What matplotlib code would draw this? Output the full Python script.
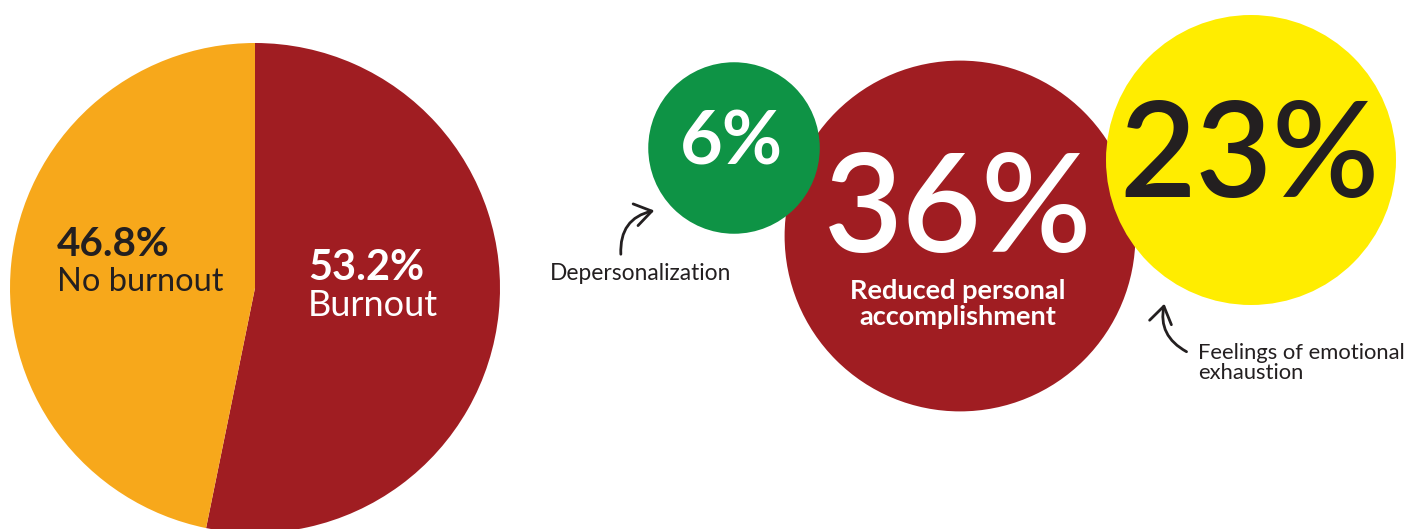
import matplotlib.pyplot as plt
from matplotlib.patches import Circle, FancyArrowPatch
import numpy as np

# Burnout split
pie_labels = ['Burnout', 'No burnout']
pie_values = [53.2, 46.8]
pie_colors = ['#A01D22', '#F7A81B']

# Burnout dimensions
dim_labels = ['Depersonalization', 'Reduced personal\naccomplishment',
              'Feelings of emotional\nexhaustion']
dim_values = [6, 36, 23]
dim_colors = ['#0E9345', '#A01D22', '#FFED00']

W, H = 1409, 529
dark = '#231F20'


def Y(py):
    # flip a top-down pixel row into the axes' y
    return H - py


def bubble_radius(v):
    return 23.9 + 25.25 * np.sqrt(v)


fig = plt.figure(figsize=(W / 100, H / 100), dpi=100)
ax = fig.add_axes([0, 0, 1, 1])

# pie
ax.pie(pie_values, colors=pie_colors, startangle=90, counterclock=False,
       center=(255, Y(288)), radius=245, frame=True,
       wedgeprops=dict(linewidth=0))
ax.set_xlim(0, W)
ax.set_ylim(0, H)
ax.set_aspect('equal')
ax.axis('off')

ax.text(57, Y(245), f'{pie_values[1]:.1f}%', fontsize=29, fontweight='bold',
        color=dark, family='Lato', ha='left', va='center')
ax.text(57, Y(282), pie_labels[1], fontsize=23.5, color=dark, family='Lato',
        ha='left', va='center')
ax.text(308, Y(268), f'{pie_values[0]:.1f}%', fontsize=30, fontweight='bold',
        color='white', family='Lato', ha='left', va='center')
ax.text(308, Y(306), pie_labels[0], fontsize=26, color='white', family='Lato',
        ha='left', va='center')

# bubbles: red at the back, green and yellow overlap it
centers = [(734, 148), (960, 236), (1251, 160)]
zorders = [4, 3, 5]
for (cx, cy), v, c, z in zip(centers, dim_values, dim_colors, zorders):
    ax.add_patch(Circle((cx, Y(cy)), bubble_radius(v), facecolor=c,
                        edgecolor='none', zorder=z))

ax.text(731, Y(143), f'{dim_values[0]}%', fontsize=53, fontweight='bold',
        color='white', family='Lato', ha='center', va='center', zorder=6)
ax.text(958, Y(213), f'{dim_values[1]}%', fontsize=98, fontweight='semibold',
        color='white', family='Lato', ha='center', va='center', zorder=6)
ax.text(1249, Y(160), f'{dim_values[2]}%', fontsize=95, fontweight='semibold',
        color=dark, family='Lato', ha='center', va='center', zorder=6)
ax.text(958, Y(304), dim_labels[1], fontsize=19.5, fontweight='bold',
        color='white', family='Lato', ha='center', va='center',
        linespacing=1.12, zorder=6)

# side labels with curved arrows
ax.text(550, Y(274), dim_labels[0], fontsize=16.4, color=dark, family='Lato',
        ha='left', va='center', zorder=6)
ax.text(1198, Y(363), dim_labels[2], fontsize=15.8, color=dark, family='Lato',
        ha='left', va='center', linespacing=1.0, zorder=6)

arrow_kw = dict(arrowstyle='->,head_length=6,head_width=4', color=dark,
                lw=2, mutation_scale=2, zorder=6)
ax.add_patch(FancyArrowPatch((621, Y(257)), (657, Y(210)),
                             connectionstyle='arc3,rad=-0.45', **arrow_kw))
ax.add_patch(FancyArrowPatch((1189, Y(353)), (1165, Y(301)),
                             connectionstyle='arc3,rad=-0.4', **arrow_kw))

fig.savefig('out.png', dpi=100, facecolor='white')
